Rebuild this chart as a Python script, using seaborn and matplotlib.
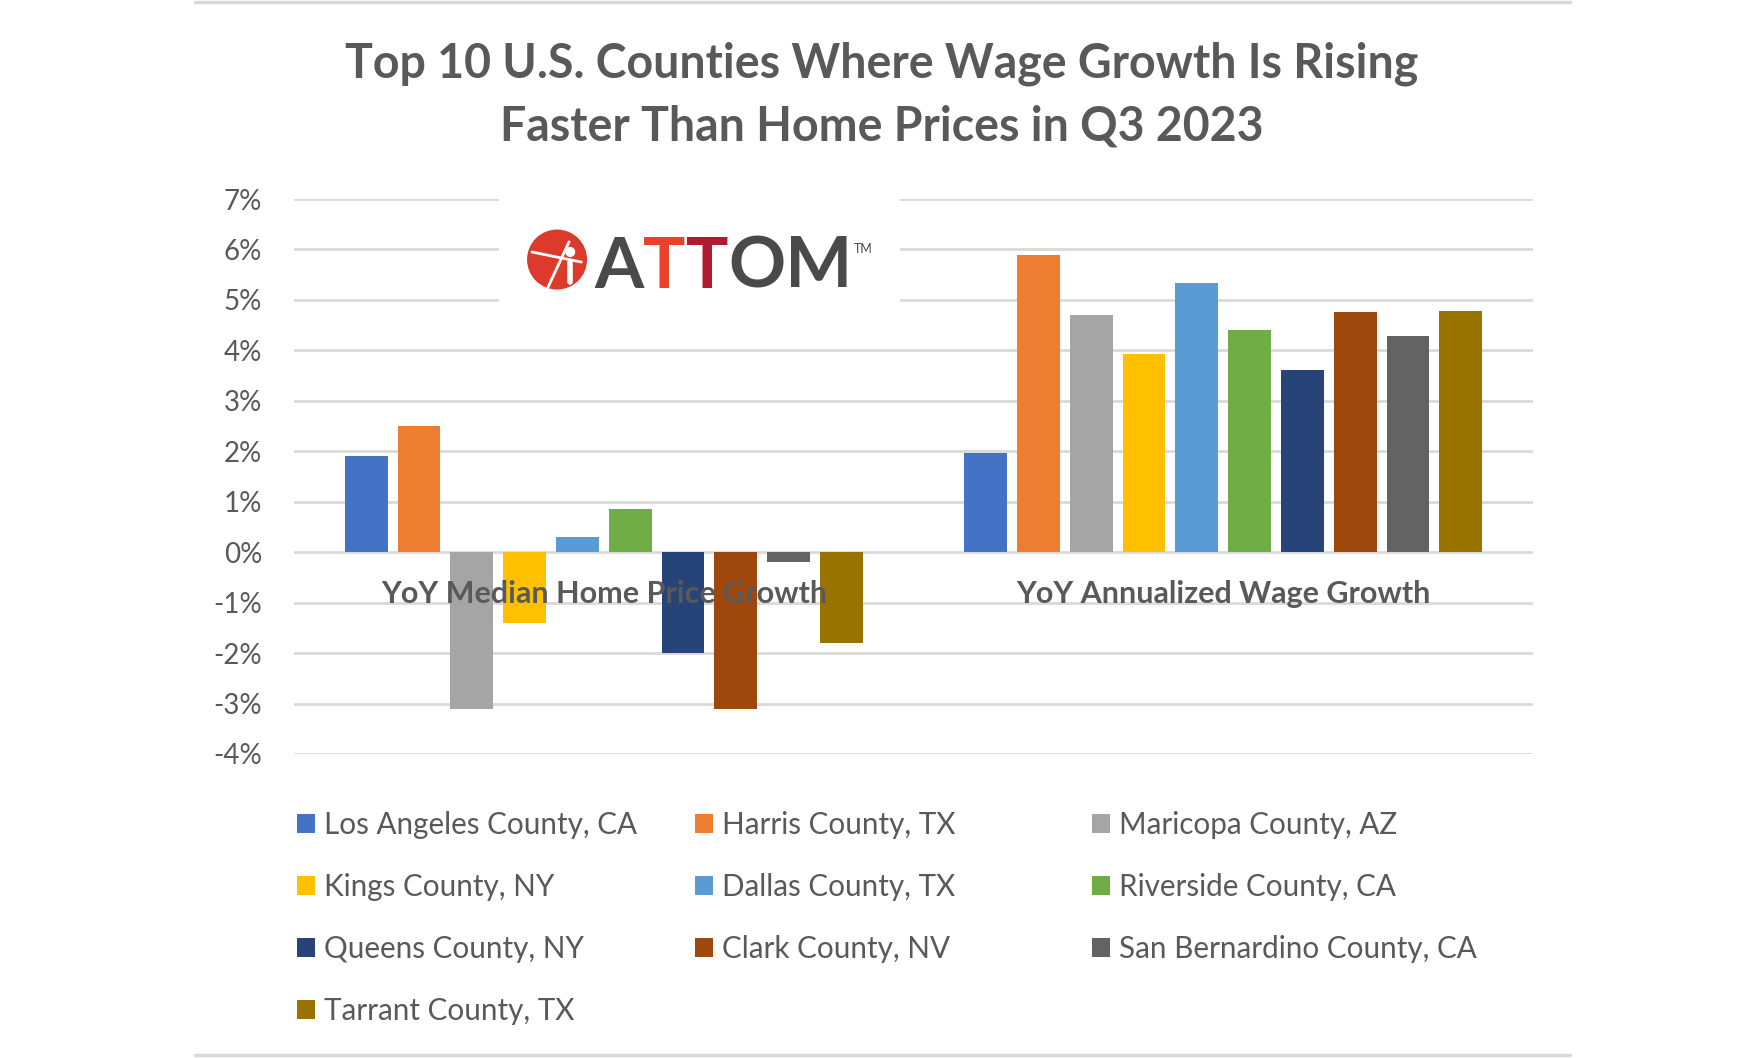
import pandas as pd
import matplotlib.pyplot as plt
import matplotlib.transforms as mtransforms
from matplotlib.patches import Rectangle, Ellipse
from matplotlib.lines import Line2D
import seaborn as sns

# Chart data (values in percent)
metrics = ['YoY Median Home Price Growth', 'YoY Annualized Wage Growth']
counties = ['Los Angeles County, CA', 'Harris County, TX', 'Maricopa County, AZ',
            'Kings County, NY', 'Dallas County, TX', 'Riverside County, CA',
            'Queens County, NY', 'Clark County, NV', 'San Bernardino County, CA',
            'Tarrant County, TX']
home_price_growth = [1.9, 2.5, -3.1, -1.4, 0.3, 0.85, -2.0, -3.1, -0.2, -1.8]
wage_growth = [1.97, 5.9, 4.7, 3.92, 5.34, 4.41, 3.62, 4.77, 4.29, 4.79]
y_ticks = list(range(-4, 8))

colors = ['#4472C4', '#ED7D31', '#A5A5A5', '#FFC000', '#5B9BD5',
          '#70AD47', '#264478', '#9E480E', '#636363', '#997300']
text_color = '#595959'
grid_color = '#D9D9D9'

df = pd.DataFrame({
    'metric': [metrics[0]] * len(counties) + [metrics[1]] * len(counties),
    'county': counties * 2,
    'value': home_price_growth + wage_growth,
})

sns.set_theme(style='white')
plt.rcParams['font.family'] = ['Lato', 'DejaVu Sans']

fig = plt.figure(figsize=(17.63, 10.58), dpi=100)
ax = fig.add_axes([294 / 1763, 1 - 754 / 1058, 1239 / 1763, 555 / 1058])

sns.barplot(data=df, x='metric', y='value', hue='county', hue_order=counties,
            palette=colors, saturation=1, width=0.852, gap=0.19,
            linewidth=0, ax=ax, legend=True)

handles, labels = ax.get_legend_handles_labels()
ax.get_legend().remove()

ax.set_ylim(-4, 7)
ax.set_yticks(y_ticks)
ax.set_yticklabels([f'{v}%' for v in y_ticks])
ax.tick_params(axis='y', length=0, pad=23, labelsize=20, labelcolor=text_color)
ax.set_xticks([])
ax.set_xlabel('')
ax.set_ylabel('')
ax.yaxis.grid(True, color=grid_color, linewidth=2)
ax.set_axisbelow(True)
for s in ax.spines.values():
    s.set_visible(False)

# category labels sit just under the zero line, like Excel
for i, m in enumerate(metrics):
    ax.annotate(m, xy=(i, 0), xytext=(0, -30), textcoords='offset points',
                ha='center', va='center', fontsize=22, fontweight='bold',
                color=text_color, zorder=5)

# ATTOM logo block (white patch over gridlines)
blend = mtransforms.blended_transform_factory(ax.transAxes, ax.transData)
ax.add_patch(Rectangle((0.1655, 4.8), 0.3235, 2.5, transform=blend,
                       facecolor='white', edgecolor='none', zorder=3,
                       clip_on=False))
ax.add_patch(Ellipse((0.2123, 5.80), 0.0484, 1.19, transform=blend,
                     facecolor='#DC3B2B', edgecolor='none', zorder=4))
ax.add_line(Line2D([0.205, 0.222], [5.25, 6.15], transform=blend,
                   color='white', lw=2, zorder=5))
ax.add_line(Line2D([0.192, 0.232], [5.95, 5.75], transform=blend,
                   color='white', lw=2, zorder=5))
ax.add_patch(Ellipse((0.223, 5.95), 0.008, 0.2, transform=blend,
                     facecolor='white', edgecolor='none', zorder=5))
ax.add_line(Line2D([0.223, 0.223], [5.35, 5.75], transform=blend,
                   color='white', lw=4, zorder=5))

logo_kw = dict(fontsize=51, fontweight='bold', zorder=5)
t1 = ax.text(0.2421, 5.24, 'A', transform=blend, va='baseline', ha='left',
             color='#4A4A4A', **logo_kw)
t2 = ax.annotate('T', xy=(1, 0), xycoords=t1, va='bottom', ha='left',
                 color='#E8412C', **logo_kw)
t3 = ax.annotate('T', xy=(1, 0), xycoords=t2, va='bottom', ha='left',
                 color='#B01C2E', **logo_kw)
t4 = ax.annotate('OM', xy=(1, 0), xycoords=t3, va='bottom', ha='left',
                 color='#4A4A4A', **logo_kw)
ax.annotate('TM', xy=(1, 1), xycoords=t4, va='top', ha='left',
            xytext=(1, -6), textcoords='offset points',
            color='#4A4A4A', fontsize=9, zorder=5)

# Title
fig.text(882 / 1763, 1 - 95 / 1058,
         'Top 10 U.S. Counties Where Wage Growth Is Rising\nFaster Than Home Prices in Q3 2023',
         ha='center', va='center', fontsize=33.5, fontweight='bold',
         color=text_color, linespacing=1.5)

# Legend: three columns laid out row by row, all sharing the same top
col_x = [297, 695, 1092]
leg_kw = dict(frameon=False, fontsize=21.3, labelcolor=text_color,
              handlelength=0.6, handleheight=0.6, handletextpad=0.3,
              borderpad=0, borderaxespad=0, labelspacing=1.15,
              loc='upper left')
for c in range(3):
    idx = list(range(c, len(counties), 3))
    fig.legend([handles[i] for i in idx], [labels[i] for i in idx],
               bbox_to_anchor=(col_x[c] / 1763, 1 - 811 / 1058), **leg_kw)

# top and bottom rules
for yy in (1 - 2 / 1058, 1 - 1055 / 1058):
    fig.add_artist(Line2D([195 / 1763, 1570 / 1763], [yy, yy],
                          transform=fig.transFigure, color=grid_color, lw=2.5))

fig.savefig('out.png', dpi=100, facecolor='white')
